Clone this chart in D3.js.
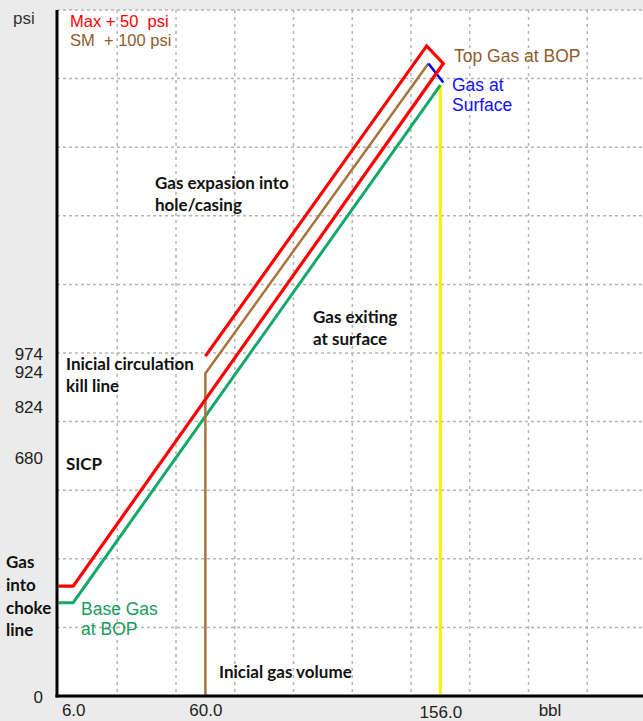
<!DOCTYPE html>
<html lang="en">
<head>
    <meta charset="UTF-8">
    <meta name="viewport" content="width=device-width, initial-scale=1.0">
    <title>Gas Kick Pressure Profile</title>
    <script src="https://d3js.org/d3.v7.min.js"></script>
    <style>
        body {
            margin: 0;
            background-color: #ebebeb;
        }
        .tick-label {
            font-family: "Liberation Sans", Arial, sans-serif;
            font-size: 17px;
            fill: #222;
        }
        .note {
            font-family: Lato, "Open Sans", sans-serif;
            font-weight: bold;
            font-size: 17px;
            fill: #111;
        }
        .legend {
            font-family: "Liberation Sans", Arial, sans-serif;
            font-size: 17.5px;
        }
    </style>
</head>
<body>
    <div id="chart"></div>

    <script>
        // Axis extents
        const xMax = 240;
        const yMax = 1948;

        // Tick labels shown on the axes
        const xTicks = [6, 60, 156];
        const yTicks = [0, 680, 824, 924, 974];

        // Pressure lines, [bbl, psi]
        const baseGas = [[0, 265], [6, 265], [156, 1735]];
        const maxLine = [[0, 312], [6, 312], [157.2, 1796], [150.4, 1846], [60, 965]];
        const smLine = [[60, 0], [60, 916], [151.1, 1796]];
        const surfaceLine = [[151.1, 1796], [157.2, 1742]];
        const gasVolume = [[156, 0], [156, 1735]];

        const width = 643, height = 721;

        const svg = d3.select("#chart")
                        .append("svg")
                        .attr("width", width)
                        .attr("height", height);

        const x = d3.scaleLinear().domain([0, xMax]).range([58.5, 646]);
        const y = d3.scaleLinear().domain([0, yMax]).range([696, 10]);

        // Gray outer background and white plot area
        svg.append("rect")
            .attr("width", width).attr("height", height)
            .attr("fill", "#ebebeb");
        svg.append("rect")
            .attr("x", 57).attr("y", y(yMax))
            .attr("width", width - 57).attr("height", y(0) - y(yMax))
            .attr("fill", "#fff");

        // Dashed grid, 10 divisions each way
        const gridX = d3.range(1, 10).map(i => xMax * i / 10);
        const gridY = d3.range(1, 11).map(i => yMax * i / 10);

        svg.append("g")
            .selectAll("line")
            .data(gridX)
            .enter()
            .append("line")
            .attr("x1", d => x(d)).attr("x2", d => x(d))
            .attr("y1", y(yMax)).attr("y2", y(0))
            .attr("stroke", "#b4b4b4")
            .attr("stroke-width", 1.5)
            .attr("stroke-dasharray", "3,4");

        svg.append("g")
            .selectAll("line")
            .data(gridY)
            .enter()
            .append("line")
            .attr("x1", 57).attr("x2", width)
            .attr("y1", d => y(d)).attr("y2", d => y(d))
            .attr("stroke", "#b4b4b4")
            .attr("stroke-width", 1.5)
            .attr("stroke-dasharray", "3,3");

        // Data lines
        const line = d3.line().x(d => x(d[0])).y(d => y(d[1]));

        const drawLine = (data, color, w) => {
            svg.append("path")
                .datum(data)
                .attr("d", line)
                .attr("fill", "none")
                .attr("stroke", color)
                .attr("stroke-width", w)
                .attr("stroke-linejoin", "miter");
        };

        drawLine(gasVolume, "#fff000", 3);
        drawLine(baseGas, "#14a86a", 3);
        drawLine(smLine, "#a8743e", 2.5);
        drawLine(surfaceLine, "#0000ff", 2.5);
        drawLine(maxLine, "#ff0000", 3.2);

        // Axes
        const yAxis = d3.axisLeft(y).tickValues(yTicks).tickSize(0).tickPadding(0);
        const gy = svg.append("g")
                        .attr("transform", "translate(43,0)")
                        .call(yAxis);
        gy.select(".domain").remove();
        gy.attr("font-size", null).attr("font-family", null);
        gy.selectAll("text")
            .attr("class", "tick-label")
            .attr("dy", "0.38em");

        const xAxis = d3.axisBottom(x).tickValues(xTicks).tickSize(0).tickFormat(d3.format(".1f"));
        const gx = svg.append("g")
                        .attr("transform", "translate(0,703)")
                        .call(xAxis);
        gx.select(".domain").remove();
        gx.attr("font-size", null).attr("font-family", null);
        gx.selectAll("text")
            .attr("class", "tick-label")
            .attr("y", d => d === 156 ? 2 : 0)
            .attr("dy", "0.78em");

        // Black axis lines
        svg.append("line")
            .attr("x1", 57).attr("x2", 57)
            .attr("y1", y(yMax)).attr("y2", y(0) + 1.5)
            .attr("stroke", "#000").attr("stroke-width", 3);
        svg.append("line")
            .attr("x1", 55.5).attr("x2", width)
            .attr("y1", y(0)).attr("y2", y(0))
            .attr("stroke", "#000").attr("stroke-width", 3);

        // Axis units
        svg.append("text").attr("class", "tick-label")
            .attr("x", 13).attr("y", 24).style("fill", "#333").text("psi");
        svg.append("text").attr("class", "tick-label")
            .attr("x", 550).attr("y", 716).attr("text-anchor", "middle").text("bbl");

        // Coloured legend-like labels
        const legendText = [
            { text: "Max + 50\u00a0\u00a0psi", x: 70, y: 27, color: "#ff0000", size: 16.5 },
            { text: "SM\u00a0\u00a0+ 100 psi", x: 70, y: 46, color: "#8f5c2c", size: 16.5 },
            { text: "Top Gas at BOP", x: 454, y: 62, color: "#8f5c2c", size: 17.5 },
            { text: "Gas at", x: 452, y: 91, color: "#1010ff", size: 17.5 },
            { text: "Surface", x: 452, y: 111, color: "#1010ff", size: 17.5 },
            { text: "Base Gas", x: 81, y: 615, color: "#1a9a5e", size: 17.5 },
            { text: "at BOP", x: 81, y: 635, color: "#1a9a5e", size: 17.5 }
        ];
        svg.append("g")
            .selectAll("text")
            .data(legendText)
            .enter()
            .append("text")
            .attr("class", "legend")
            .attr("x", d => d.x)
            .attr("y", d => d.y)
            .style("font-size", d => d.size + "px")
            .style("fill", d => d.color)
            .text(d => d.text);

        // Bold annotations
        const notes = [
            { text: "Gas expasion into", x: 155, y: 189 },
            { text: "hole/casing", x: 155, y: 211 },
            { text: "Gas exiting", x: 313, y: 323 },
            { text: "at surface", x: 313, y: 345 },
            { text: "Inicial circulation", x: 66, y: 370 },
            { text: "kill line", x: 66, y: 392 },
            { text: "SICP", x: 66, y: 470 },
            { text: "Gas", x: 6, y: 568 },
            { text: "into", x: 6, y: 591 },
            { text: "choke", x: 6, y: 614 },
            { text: "line", x: 6, y: 636 },
            { text: "Inicial gas volume", x: 219, y: 678 }
        ];
        svg.append("g")
            .selectAll("text")
            .data(notes)
            .enter()
            .append("text")
            .attr("class", "note")
            .attr("x", d => d.x)
            .attr("y", d => d.y)
            .text(d => d.text);
    </script>
</body>
</html>
